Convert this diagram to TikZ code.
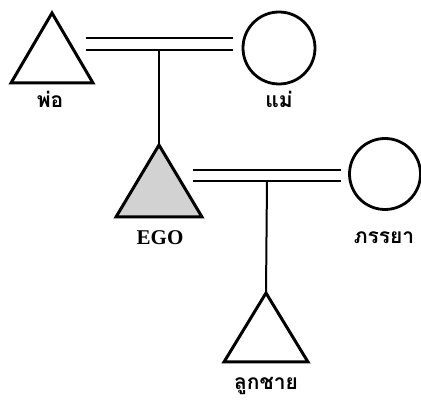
\documentclass[tikz,border=0pt]{standalone}
\usepackage{fontspec}
\setmainfont{Liberation Serif}
\newfontfamily\thaifont[Script=Thai]{Loma}
\usetikzlibrary{shapes.geometric}
\begin{document}
\begin{tikzpicture}[x=1pt,y=-1pt,
  tri/.style={isosceles triangle, isosceles triangle stretches, shape border rotate=90,
    draw, line width=3pt, line join=miter, inner sep=0pt, outer sep=0pt, anchor=apex},
  circ/.style={circle, draw, line width=2.8pt, inner sep=0pt, outer sep=0pt},
  lab/.style={font=\thaifont\bfseries\fontsize{21}{23}\selectfont, inner sep=0pt},
  marr/.style={line width=2.5pt},
  desc/.style={line width=2pt}]
\useasboundingbox (0,0) rectangle (421,403);
% persons
\node[tri, minimum width=82pt, minimum height=70pt] (father) at (52,13) {};
\node[circ, minimum size=72pt] (mother) at (279,48) {};
\node[tri, minimum width=86pt, minimum height=72pt, fill=gray!35] (ego) at (159,145) {};
\node[circ, minimum size=71pt] (wife) at (385,174) {};
\node[tri, minimum width=84pt, minimum height=69pt] (son) at (266,293) {};
% labels
\node[lab] (lfather) at (50,99) {พ่อ};
\node[lab] (lmother) at (279,99) {แม่};
\node[font=\bfseries\fontsize{21}{23}\selectfont, inner sep=0pt] (lego) at (160,238) {EGO};
\node[lab] (lwife) at (384,238) {ภรรยา};
\node[lab] (lson) at (266,386) {ลูกชาย};
% marriage 1
\coordinate (a1) at (86,38);
\coordinate (b1) at (233,38);
\coordinate (a2) at (86,50);
\coordinate (b2) at (233,50);
\coordinate (d1) at (159,50);
\draw[marr] (a1) -- (b1);
\draw[marr] (a2) -- (b2);
\draw[desc] (d1) -- (ego.apex);
% marriage 2
\coordinate (c1) at (193,170);
\coordinate (e1) at (341,170);
\coordinate (c2) at (193,181);
\coordinate (e2) at (341,181);
\coordinate (d2) at (267,181);
\draw[marr] (c1) -- (e1);
\draw[marr] (c2) -- (e2);
\draw[desc] (d2) -- (son.apex);
\end{tikzpicture}
\end{document}
